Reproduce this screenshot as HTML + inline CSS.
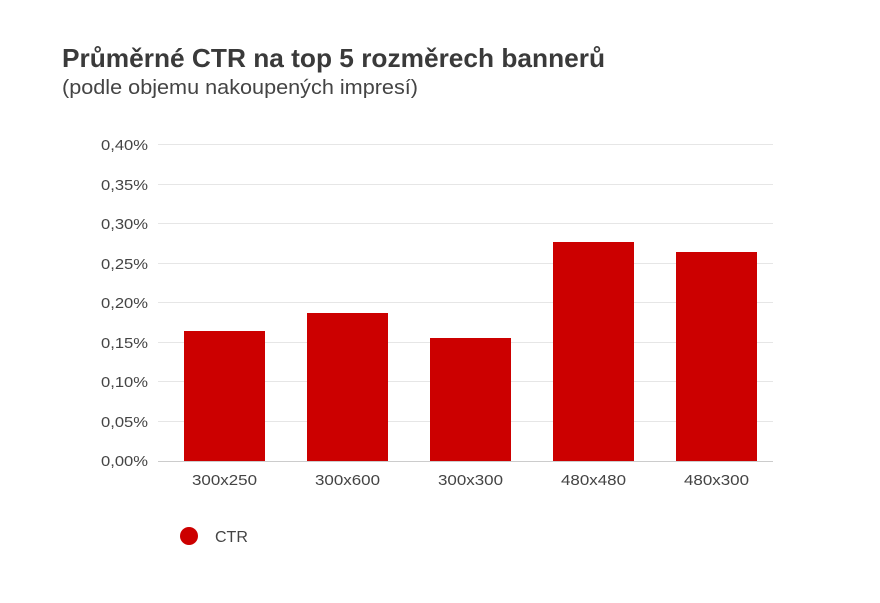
<!DOCTYPE html>
<html><head><meta charset="utf-8"><style>
body{margin:0;background:#fff;width:880px;height:598px;overflow:hidden;font-family:"Liberation Sans",sans-serif}
</style></head><body>
<svg width="880" height="598" xmlns="http://www.w3.org/2000/svg" font-family="Liberation Sans, sans-serif">
<text x="62" y="67" font-size="26" font-weight="bold" fill="#3a3a3a" textLength="543" lengthAdjust="spacingAndGlyphs">Průměrné CTR na top 5 rozměrech bannerů</text>
<text x="62" y="94" font-size="20" fill="#444" textLength="356" lengthAdjust="spacingAndGlyphs">(podle objemu nakoupených impresí)</text>
<g stroke="#e6e6e6" stroke-width="1">
<line x1="158" x2="773" y1="144.5" y2="144.5"/>
<line x1="158" x2="773" y1="184.5" y2="184.5"/>
<line x1="158" x2="773" y1="223.5" y2="223.5"/>
<line x1="158" x2="773" y1="263.5" y2="263.5"/>
<line x1="158" x2="773" y1="302.5" y2="302.5"/>
<line x1="158" x2="773" y1="342.5" y2="342.5"/>
<line x1="158" x2="773" y1="381.5" y2="381.5"/>
<line x1="158" x2="773" y1="421.5" y2="421.5"/>
</g>
<g font-size="15" fill="#444">
<text x="101" y="150" textLength="47" lengthAdjust="spacingAndGlyphs">0,40%</text>
<text x="101" y="190" textLength="47" lengthAdjust="spacingAndGlyphs">0,35%</text>
<text x="101" y="229" textLength="47" lengthAdjust="spacingAndGlyphs">0,30%</text>
<text x="101" y="269" textLength="47" lengthAdjust="spacingAndGlyphs">0,25%</text>
<text x="101" y="308" textLength="47" lengthAdjust="spacingAndGlyphs">0,20%</text>
<text x="101" y="348" textLength="47" lengthAdjust="spacingAndGlyphs">0,15%</text>
<text x="101" y="387" textLength="47" lengthAdjust="spacingAndGlyphs">0,10%</text>
<text x="101" y="427" textLength="47" lengthAdjust="spacingAndGlyphs">0,05%</text>
<text x="101" y="466" textLength="47" lengthAdjust="spacingAndGlyphs">0,00%</text>
</g>
<g fill="#cc0000">
<rect x="184" y="331" width="81" height="130"/>
<rect x="307" y="313" width="81" height="148"/>
<rect x="430" y="338" width="81" height="123"/>
<rect x="553" y="242" width="81" height="219"/>
<rect x="676" y="252" width="81" height="209"/>
</g>
<line x1="158" x2="773" y1="461.5" y2="461.5" stroke="#ccc"/>
<g font-size="15" fill="#444">
<text x="192" y="485" textLength="65" lengthAdjust="spacingAndGlyphs">300x250</text>
<text x="315" y="485" textLength="65" lengthAdjust="spacingAndGlyphs">300x600</text>
<text x="438" y="485" textLength="65" lengthAdjust="spacingAndGlyphs">300x300</text>
<text x="561" y="485" textLength="65" lengthAdjust="spacingAndGlyphs">480x480</text>
<text x="684" y="485" textLength="65" lengthAdjust="spacingAndGlyphs">480x300</text>
</g>
<circle cx="189" cy="536" r="9" fill="#cc0000"/>
<text x="215" y="542" font-size="16" fill="#444">CTR</text>
</svg>
</body></html>
